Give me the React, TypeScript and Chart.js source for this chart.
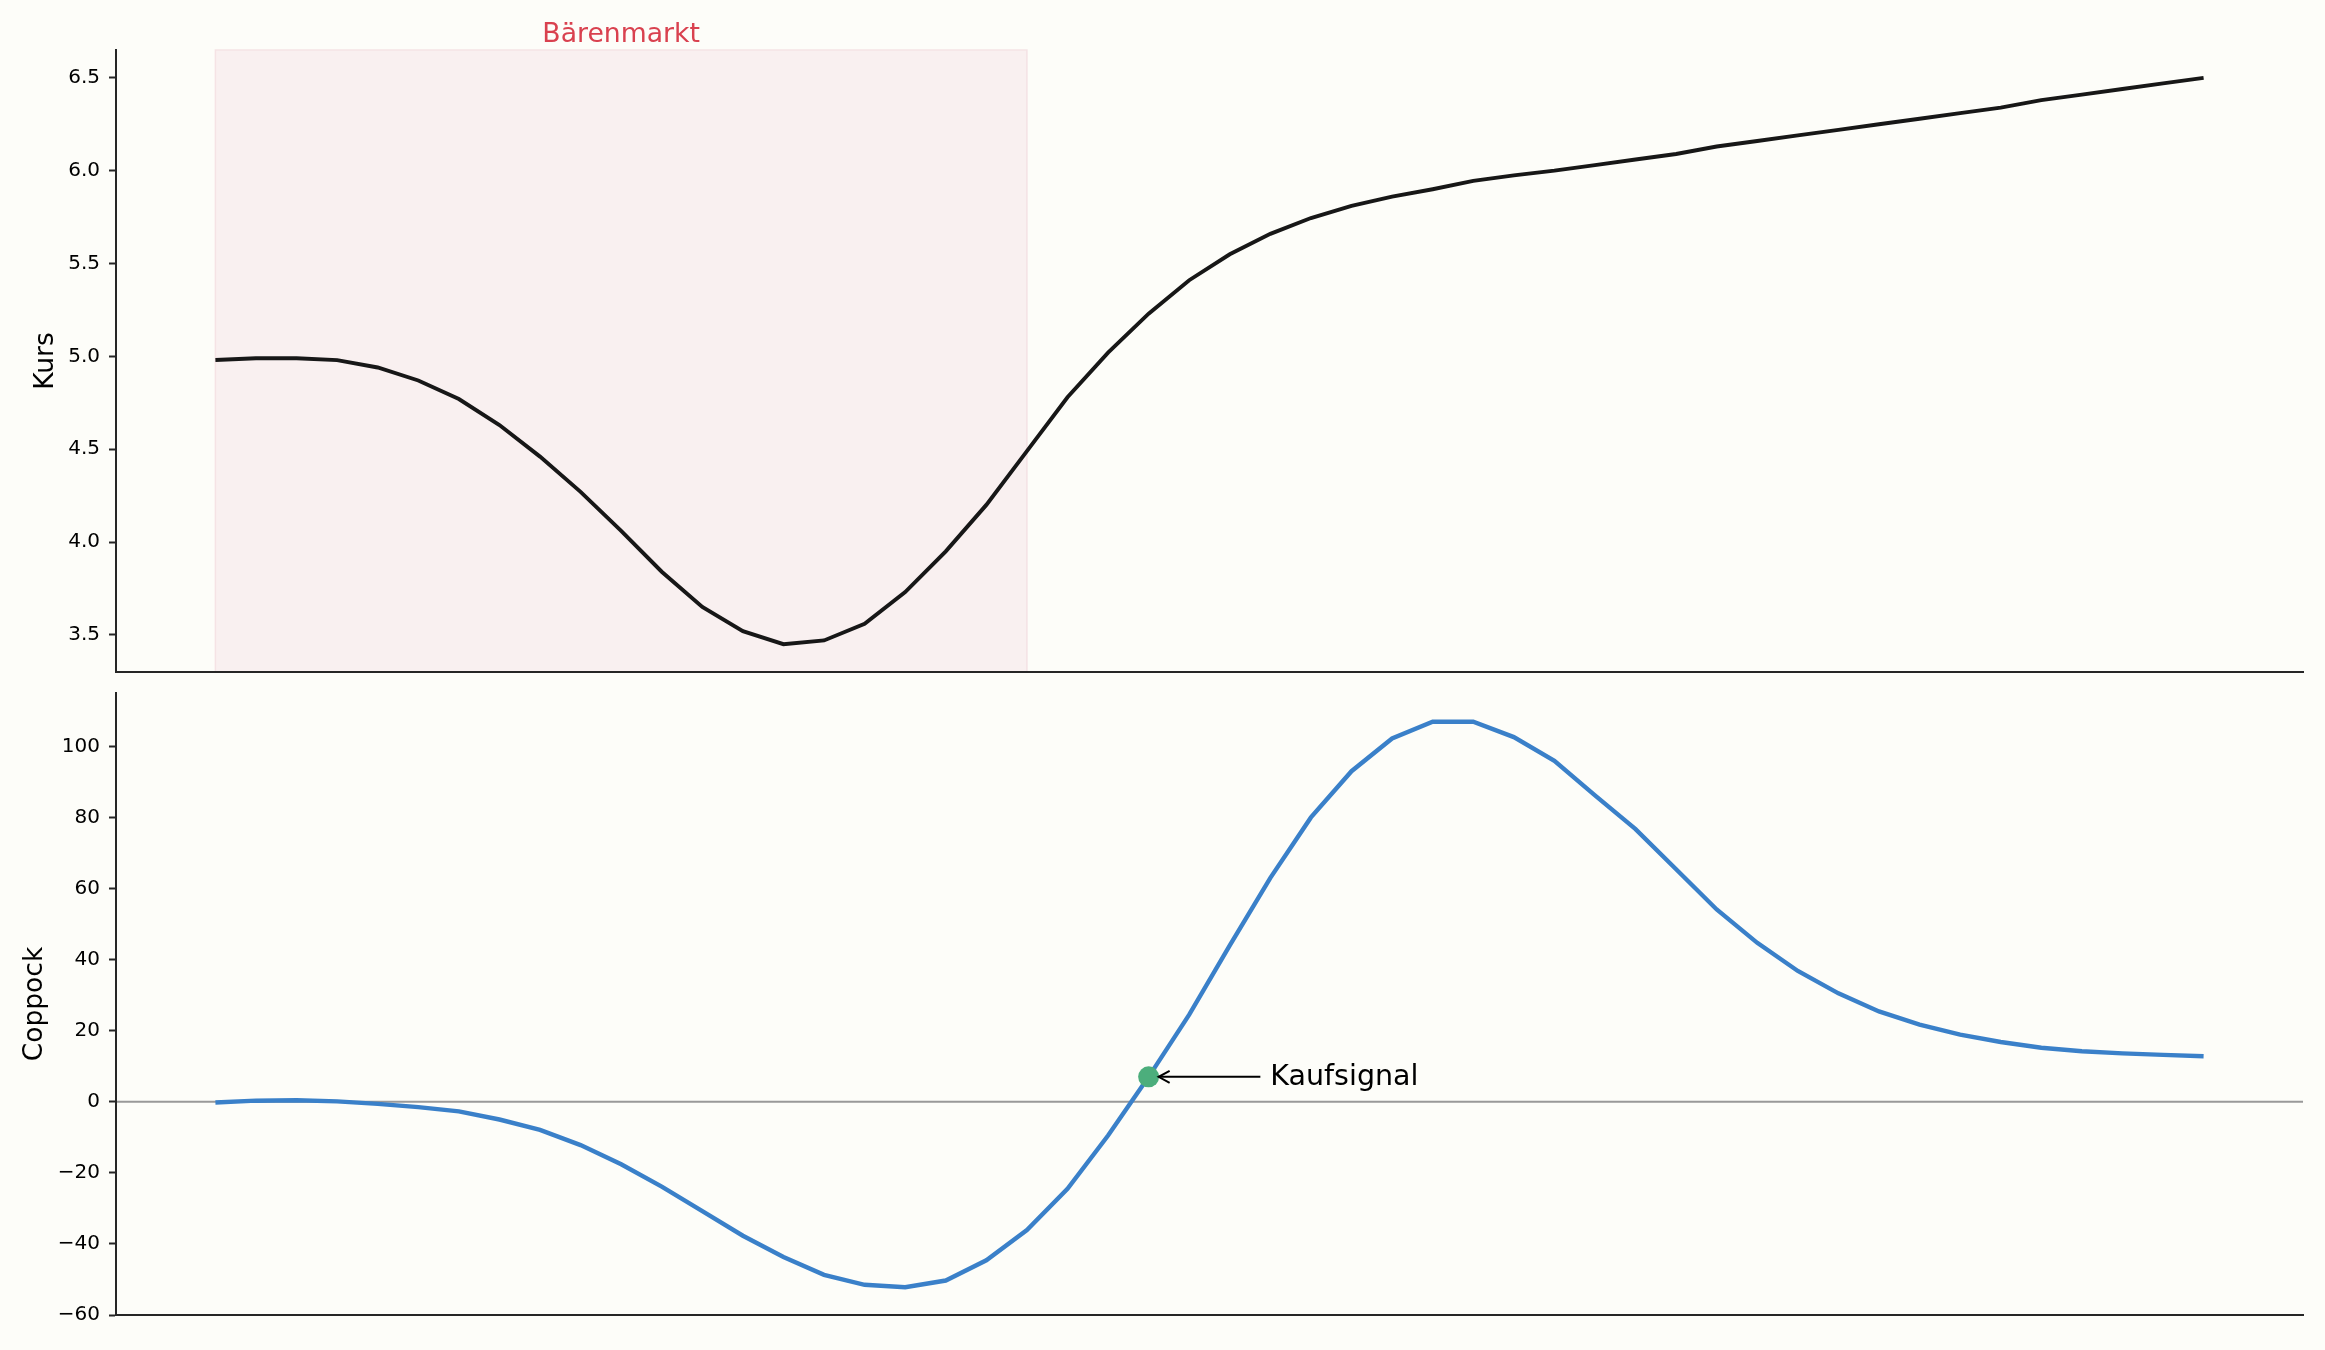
import { useEffect, useRef } from 'react';
import Chart from 'chart.js/auto';

// price path (Kurs) and Coppock curve, one value per period
const kurs = [
  4.98, 4.99, 4.99, 4.98, 4.94, 4.87, 4.77, 4.63, 4.46, 4.27,
  4.06, 3.84, 3.65, 3.52, 3.45, 3.47, 3.56, 3.73, 3.95, 4.2,
  4.49, 4.78, 5.02, 5.23, 5.41, 5.55, 5.66, 5.745, 5.81, 5.86,
  5.9, 5.945, 5.975, 6.0, 6.03, 6.06, 6.09, 6.13, 6.16, 6.19,
  6.22, 6.25, 6.28, 6.31, 6.34, 6.38, 6.41, 6.44, 6.47, 6.5,
];
const coppock = [
  -0.2, 0.3, 0.4, 0.1, -0.6, -1.5, -2.7, -5.0, -7.9, -12.2,
  -17.6, -23.9, -30.8, -37.7, -43.7, -48.7, -51.5, -52.2, -50.3, -44.6,
  -36.1, -24.5, -9.5, 7.0, 24.5, 44.0, 63.0, 80.0, 93.0, 102.2,
  106.9, 106.9, 102.6, 95.9, 86.2, 76.7, 65.4, 54.1, 44.7, 36.8,
  30.5, 25.4, 21.7, 18.9, 16.8, 15.2, 14.2, 13.6, 13.2, 12.8,
];
const kursTicks = [3.5, 4.0, 4.5, 5.0, 5.5, 6.0, 6.5];
const coppockTicks = [-60, -40, -20, 0, 20, 40, 60, 80, 100];

const bearStart = 0;
const bearEnd = 20;
const bearLabel = 'Bärenmarkt';
const signalIndex = 23;
const signalLabel = 'Kaufsignal';
const signalLabelX = 26;

const FONT = "'DejaVu Sans', sans-serif";
const SPINE = '#262626';
const BG = '#fdfdf9';

const fmtMinus = (v: number, d: number) => {
  const s = Math.abs(v).toFixed(d);
  return v < 0 ? '\u2212' + s : s;
};

const xAxis = {
  type: 'linear' as const,
  min: -2.45,
  max: 51.45,
  ticks: { display: false },
  grid: { display: false },
  border: { display: true, color: SPINE, width: 2 },
  afterFit: (s: any) => {
    s.height = 0;
  },
};

const yAxis = (min: number, max: number, ticks: number[], decimals: number, title: string, titlePad: number) => ({
  min,
  max,
  afterBuildTicks: (s: any) => {
    s.ticks = ticks.map((v) => ({ value: v }));
  },
  afterFit: (s: any) => {
    s.width = 116;
  },
  ticks: {
    color: '#000',
    font: { family: FONT, size: 20 },
    padding: 9,
    callback: (v: any) => fmtMinus(Number(v), decimals),
  },
  grid: {
    display: true,
    drawOnChartArea: false,
    drawTicks: true,
    tickLength: 7,
    tickWidth: 2,
    tickColor: SPINE,
  },
  border: { display: true, color: SPINE, width: 2 },
  title: {
    display: true,
    text: title,
    color: '#000',
    font: { family: FONT, size: 26.5 },
    padding: { top: titlePad, bottom: 0 },
  },
});

function KursPanel() {
  const canvasRef = useRef<HTMLCanvasElement | null>(null);
  const chartRef = useRef<Chart | null>(null);

  useEffect(() => {
    if (!canvasRef.current) return;
    if (chartRef.current) chartRef.current.destroy();

    const bearShade = {
      id: 'bearShade',
      beforeDraw(chart: any) {
        const { ctx, chartArea, scales } = chart;
        const x0 = scales.x.getPixelForValue(bearStart);
        const x1 = scales.x.getPixelForValue(bearEnd);
        ctx.save();
        ctx.fillStyle = '#f9f0f0';
        ctx.fillRect(x0, chartArea.top, x1 - x0, chartArea.bottom - chartArea.top);
        ctx.strokeStyle = '#f5e3e5';
        ctx.lineWidth = 1.5;
        ctx.strokeRect(x0, chartArea.top, x1 - x0, chartArea.bottom - chartArea.top);
        ctx.restore();
      },
      afterDraw(chart: any) {
        const { ctx, chartArea, scales } = chart;
        const cx = scales.x.getPixelForValue((bearStart + bearEnd) / 2);
        ctx.save();
        ctx.font = `26.7px ${FONT}`;
        ctx.fillStyle = '#d9414f';
        ctx.textAlign = 'center';
        ctx.textBaseline = 'alphabetic';
        ctx.fillText(bearLabel, cx, chartArea.top - 8);
        ctx.restore();
      },
    };

    chartRef.current = new Chart(canvasRef.current, {
      type: 'line',
      data: {
        datasets: [
          {
            label: 'Kurs',
            data: kurs.map((v, i) => ({ x: i, y: v })),
            borderColor: '#171717',
            borderWidth: 3.9,
            pointRadius: 0,
            tension: 0,
          },
        ],
      },
      options: {
        responsive: false,
        animation: false,
        layout: { padding: { top: 50, right: 22, bottom: 0, left: 0 } },
        plugins: { legend: { display: false }, tooltip: { enabled: false } },
        scales: {
          x: xAxis,
          y: yAxis(3.3, 6.65, kursTicks, 1, 'Kurs', 30),
        },
      } as any,
      plugins: [bearShade],
    });

    return () => {
      if (chartRef.current) {
        chartRef.current.destroy();
        chartRef.current = null;
      }
    };
  }, []);

  return (
    <canvas
      ref={canvasRef}
      width={2325}
      height={693}
      style={{ position: 'absolute', left: 0, top: 0, display: 'block' }}
    />
  );
}

function CoppockPanel() {
  const canvasRef = useRef<HTMLCanvasElement | null>(null);
  const chartRef = useRef<Chart | null>(null);

  useEffect(() => {
    if (!canvasRef.current) return;
    if (chartRef.current) chartRef.current.destroy();

    const decor = {
      id: 'coppockDecor',
      beforeDraw(chart: any) {
        const { ctx, chartArea, scales } = chart;
        const y0 = scales.y.getPixelForValue(0);
        ctx.save();
        ctx.strokeStyle = '#999999';
        ctx.lineWidth = 2;
        ctx.beginPath();
        ctx.moveTo(chartArea.left, y0);
        ctx.lineTo(chartArea.right, y0);
        ctx.stroke();
        ctx.restore();
      },
      afterDatasetsDraw(chart: any) {
        const { ctx, scales } = chart;
        const px = scales.x.getPixelForValue(signalIndex);
        const py = scales.y.getPixelForValue(coppock[signalIndex]);
        const tx = scales.x.getPixelForValue(signalLabelX);
        const tipX = px + 10;
        const tailX = tx - 10;
        ctx.save();
        ctx.strokeStyle = '#000';
        ctx.lineWidth = 2;
        ctx.beginPath();
        ctx.moveTo(tailX, py);
        ctx.lineTo(tipX, py);
        ctx.stroke();
        ctx.beginPath();
        ctx.moveTo(tipX + 11, py - 6);
        ctx.lineTo(tipX, py);
        ctx.lineTo(tipX + 11, py + 6);
        ctx.stroke();
        ctx.font = `28.5px ${FONT}`;
        ctx.fillStyle = '#000';
        ctx.textAlign = 'left';
        ctx.textBaseline = 'middle';
        ctx.fillText(signalLabel, tx, py + 1);
        ctx.restore();
      },
    };

    chartRef.current = new Chart(canvasRef.current, {
      type: 'line',
      data: {
        datasets: [
          {
            label: signalLabel,
            data: [{ x: signalIndex, y: coppock[signalIndex] }],
            showLine: false,
            pointRadius: 10.5,
            pointBackgroundColor: '#4cae7c',
            pointBorderWidth: 0,
            order: 0,
          },
          {
            label: 'Coppock',
            data: coppock.map((v, i) => ({ x: i, y: v })),
            borderColor: '#3a80c9',
            borderWidth: 4.4,
            pointRadius: 0,
            tension: 0,
            order: 1,
          },
        ],
      },
      options: {
        responsive: false,
        animation: false,
        layout: { padding: { top: 0, right: 22, bottom: 35, left: 0 } },
        plugins: { legend: { display: false }, tooltip: { enabled: false } },
        scales: {
          x: xAxis,
          y: yAxis(-60, 115, coppockTicks, 0, 'Coppock', 19),
        },
      } as any,
      plugins: [decor],
    });

    return () => {
      if (chartRef.current) {
        chartRef.current.destroy();
        chartRef.current = null;
      }
    };
  }, []);

  return (
    <canvas
      ref={canvasRef}
      width={2325}
      height={678}
      style={{ position: 'absolute', left: 0, top: 672, display: 'block' }}
    />
  );
}

export default function App() {
  return (
    <div
      style={{
        position: 'absolute',
        left: 0,
        top: 0,
        width: 2325,
        height: 1350,
        background: BG,
        overflow: 'hidden',
      }}
    >
      <KursPanel />
      <CoppockPanel />
    </div>
  );
}
